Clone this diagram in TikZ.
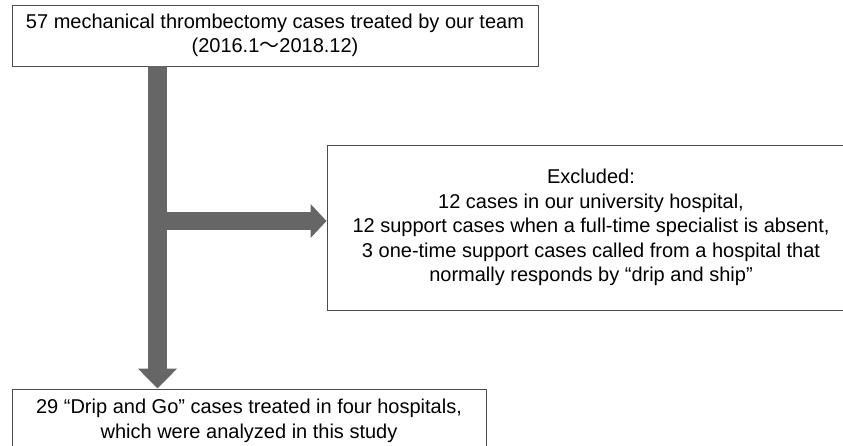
\documentclass[tikz,border=0pt]{standalone}
\usepackage{fontspec}
\setmainfont{Liberation Sans}
\newfontfamily\cjkfont{Noto Sans CJK JP}
\usetikzlibrary{arrows.meta}
\begin{document}
\begin{tikzpicture}[x=1pt,y=-1pt,
  box/.style={draw=black!70, line width=0.9pt, rectangle, inner sep=0pt, align=center,
    font=\fontsize{20}{24.5}\selectfont},
  flowdown/.style={draw=black!60, line width=19pt, -{Triangle[length=20pt,width=38pt]}},
  flowright/.style={draw=black!60, line width=18pt, -{Triangle[length=16pt,width=33pt]}}]
\useasboundingbox (0,0) rectangle (843,445);
\fill[white] (0,0) rectangle (843,445);
\node[box, minimum width=526pt, minimum height=61pt] (top) at (275,35.5)
  {57 mechanical thrombectomy cases treated by our team\\(2016.1{\cjkfont ～}2018.12)};
\node[box, minimum width=528pt, minimum height=165pt] (excl) at (591,227.5)
  {Excluded:\\12 cases in our university hospital,\\12 support cases when a full-time specialist is absent,\\3 one-time support cases called from a hospital that\\normally responds by “drip and ship”};
\node[box, minimum width=474pt, minimum height=64pt] (final) at (249,421)
  {29 “Drip and Go” cases treated in four hospitals,\\which were analyzed in this study};
\coordinate (shaftx) at (157.5,0);
\coordinate (branch) at (157.5,221);
\draw[flowright] (branch) -- (branch -| excl.west);
\draw[flowdown] (top.south -| shaftx) -- (final.north -| shaftx);
\end{tikzpicture}
\end{document}
